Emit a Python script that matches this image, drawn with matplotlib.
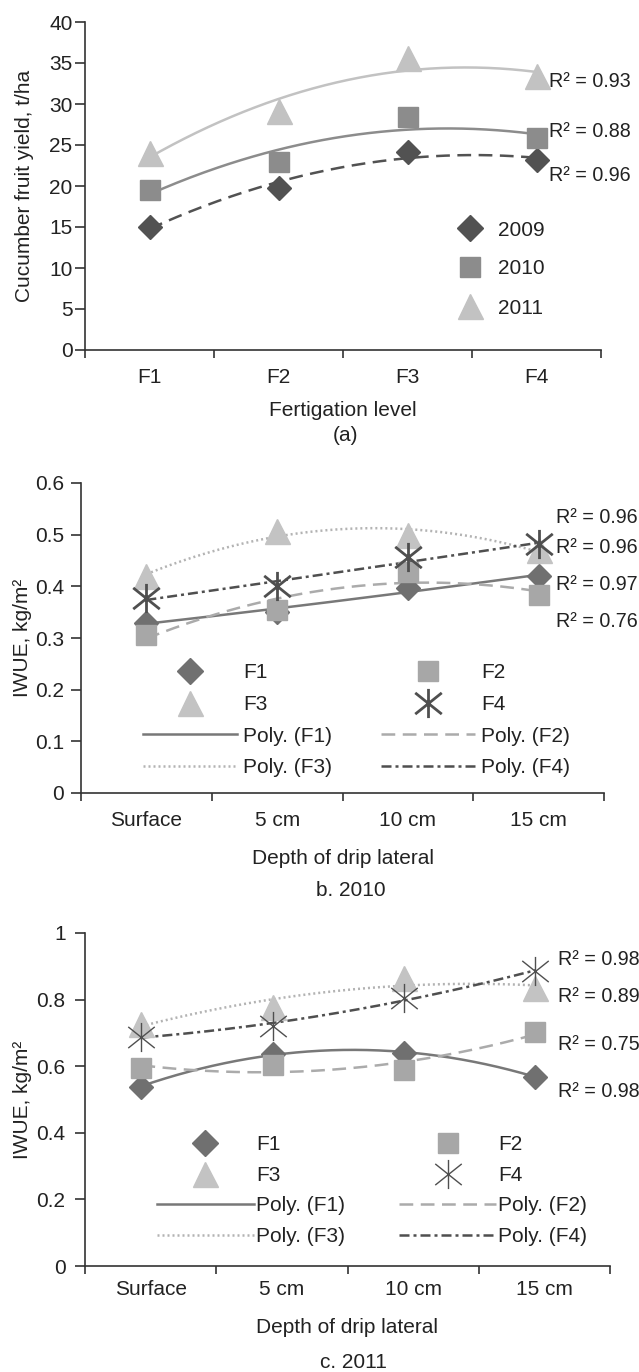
import numpy as np
import matplotlib
matplotlib.use("Agg")
import matplotlib.pyplot as plt
from matplotlib.path import Path
from matplotlib.lines import Line2D
from matplotlib.ticker import NullFormatter

plt.rcParams['font.family'] = ['Liberation Sans', 'DejaVu Sans']
plt.rcParams['font.size'] = 15
plt.rcParams['text.color'] = '#222222'
plt.rcParams['axes.labelcolor'] = '#222222'
plt.rcParams['xtick.color'] = '#333333'
plt.rcParams['ytick.color'] = '#333333'
plt.rcParams['xtick.labelcolor'] = '#222222'
plt.rcParams['ytick.labelcolor'] = '#222222'

# ---- (a) cucumber yield by fertigation level ----
levels = ['F1', 'F2', 'F3', 'F4']
yield_2009 = [15.0, 19.8, 24.1, 23.2]
yield_2010 = [19.5, 22.9, 28.4, 25.8]
yield_2011 = [24.0, 29.1, 35.6, 33.4]
r2_a = ['0.93', '0.88', '0.96']
r2_a_y = [32.7, 26.6, 21.3]

# ---- (b) IWUE 2010 by depth of drip lateral ----
depths = ['Surface', '5 cm', '10 cm', '15 cm']
iwue10_f1 = [0.33, 0.35, 0.396, 0.42]
iwue10_f2 = [0.306, 0.355, 0.428, 0.383]
iwue10_f3 = [0.42, 0.507, 0.50, 0.47]
iwue10_f4 = [0.377, 0.40, 0.457, 0.481]
r2_b = ['0.96', '0.96', '0.97', '0.76']
r2_b_y = [0.534, 0.476, 0.403, 0.331]

# ---- (c) IWUE 2011 ----
iwue11_f1 = [0.539, 0.637, 0.639, 0.569]
iwue11_f2 = [0.595, 0.605, 0.59, 0.703]
iwue11_f3 = [0.728, 0.778, 0.865, 0.835]
iwue11_f4 = [0.689, 0.721, 0.806, 0.885]
r2_c = ['0.98', '0.89', '0.75', '0.98']
r2_c_y = [0.919, 0.808, 0.664, 0.523]

x = np.arange(4) + 0.5

# asterisk marker like the spreadsheet one: an X plus a vertical bar
star = Path([(-1, -0.8), (1, 0.8), (-1, 0.8), (1, -0.8), (0, -1.1), (0, 1.1)],
            [Path.MOVETO, Path.LINETO] * 3)

DASH = (0, (5.5, 3))
DASHDOT = (0, (4, 1.6, 1.2, 1.6))
DOT = (0, (0.8, 1.2))

fig = plt.figure(figsize=(6.39, 13.72), dpi=100)
W, H = 639, 1372


def add_ax(left, right, top, bottom):
    return fig.add_axes([left / W, 1 - bottom / H, (right - left) / W, (bottom - top) / H])


def style(ax, cats, ymax, yticks, ylabels, xpad, ypad):
    ax.set_xlim(0, 4)
    ax.set_ylim(0, ymax)
    for s in ['top', 'right']:
        ax.spines[s].set_visible(False)
    for s in ['left', 'bottom']:
        ax.spines[s].set_color('#333333')
        ax.spines[s].set_linewidth(1.2)
    ax.set_xticks(range(5))
    ax.xaxis.set_major_formatter(NullFormatter())
    ax.set_xticks(x, minor=True)
    ax.set_xticklabels(cats, minor=True)
    ax.tick_params(axis='x', which='major', direction='out', length=6, width=1.2)
    ax.tick_params(axis='x', which='minor', length=0, pad=xpad)
    ax.set_yticks(yticks)
    ax.set_yticklabels(ylabels)
    ax.tick_params(axis='y', direction='out', length=7, width=1.2, pad=ypad)


def series(ax, vals, marker, ms, mcol, lcol, ls, mew=1.5, lw=1.8, shift=0.0):
    xx = x + shift
    if marker is star:
        ax.plot(xx, vals, ls='none', marker=marker, ms=ms, mfc='none', mec=mcol, mew=mew, zorder=4)
    else:
        ax.plot(xx, vals, ls='none', marker=marker, ms=ms, color=mcol, mec=mcol, zorder=4)
    coef = np.polyfit(xx, vals, 2)
    xs = np.linspace(xx[0], xx[-1], 200)
    ax.plot(xs, np.polyval(coef, xs), color=lcol, ls=ls, lw=lw, zorder=3)


def r2_labels(ax, xpos, labels, ys):
    for lab, yy in zip(labels, ys):
        ax.text(xpos, yy, 'R\u00b2 = ' + lab, va='center', ha='left',
                fontsize=14.2, clip_on=False)


# colours
C09, C10, C11 = '#525252', '#8c8c8c', '#c2c2c2'
CF1, CF2, CF3, CF4 = '#707070', '#a7a7a7', '#c3c3c3', '#4f4f4f'
LF1, LF2, LF3, LF4 = '#787878', '#ababab', '#b3b3b3', '#4f4f4f'
MS_D, MS_S, MS_T, MS_X = 12, 14.5, 18, 21

# ---------------- panel (a) ----------------
ax = add_ax(85, 601, 22, 350)
style(ax, levels, 40, range(0, 41, 5), [str(v) for v in range(0, 41, 5)], 13.3, 2)
series(ax, yield_2009, 'D', MS_D, C09, C09, DASH)
series(ax, yield_2010, 's', MS_S, C10, C10, '-')
series(ax, yield_2011, '^', MS_T, C11, C11, '-')
r2_labels(ax, 3.6, r2_a, r2_a_y)
ax.set_ylabel('Cucumber fruit yield, t/ha')
ax.yaxis.set_label_coords(-0.099, 0.5)
ax.set_xlabel('Fertigation level')
ax.xaxis.set_label_coords(0.5, -0.157)
handles = [Line2D([], [], ls='none', marker='D', ms=13, color=C09),
           Line2D([], [], ls='none', marker='s', ms=MS_S, color=C10),
           Line2D([], [], ls='none', marker='^', ms=MS_T, color=C11)]
fig.legend(handles, ['2009', '2010', '2011'], loc='upper left',
           bbox_to_anchor=(455 / W, 1 - 220.5 / H), bbox_transform=fig.transFigure,
           frameon=False, borderpad=0, borderaxespad=0, handlelength=1.4,
           handletextpad=0.65, labelspacing=0.96)
fig.text(345 / W, 1 - 435 / H, '(a)', ha='center', va='center')

# ---------------- panel (b) ----------------
ax = add_ax(81, 604, 483, 793)
yt = [0, 0.1, 0.2, 0.3, 0.4, 0.5, 0.6]
style(ax, depths, 0.6, yt, ['0', '0.1', '0.2', '0.3', '0.4', '0.5', '0.6'], 13.3, 5)
series(ax, iwue10_f1, 'D', MS_D, CF1, LF1, '-')
series(ax, iwue10_f2, 's', MS_S, CF2, LF2, DASH)
series(ax, iwue10_f3, '^', MS_T, CF3, LF3, DOT)
series(ax, iwue10_f4, star, MS_X, CF4, LF4, DASHDOT, mew=2)
r2_labels(ax, 3.63, r2_b, r2_b_y)
ax.set_ylabel('IWUE, kg/m\u00b2')
ax.yaxis.set_label_coords(-0.094, 0.5)
ax.set_xlabel('Depth of drip lateral')
ax.xaxis.set_label_coords(0.5, -0.182)


def fert_legend(mew, x0, top, hl, htp, cs, ls):
    hs = [Line2D([], [], ls='none', marker='D', ms=13, color=CF1),
          Line2D([], [], ls='none', marker='^', ms=MS_T, color=CF3),
          Line2D([], [], ls='-', lw=1.8, color=LF1),
          Line2D([], [], ls=DOT, lw=1.8, color=LF3),
          Line2D([], [], ls='none', marker='s', ms=MS_S, color=CF2),
          Line2D([], [], ls='none', marker=star, ms=MS_X, mfc='none', mec=CF4, mew=mew),
          Line2D([], [], ls=DASH, lw=1.8, color=LF2),
          Line2D([], [], ls=DASHDOT, lw=1.8, color=LF4)]
    labs = ['F1', 'F3', 'Poly. (F1)', 'Poly. (F3)', 'F2', 'F4', 'Poly. (F2)', 'Poly. (F4)']
    fig.legend(hs, labs, loc='upper left', ncol=2,
               bbox_to_anchor=(x0 / W, 1 - top / H), bbox_transform=fig.transFigure,
               frameon=False, borderpad=0, borderaxespad=0, handlelength=hl,
               handletextpad=htp, columnspacing=cs, labelspacing=ls)


fert_legend(2, 143, 663.5, 4.5, 0.3, 2.35, 0.6)
fig.text(351 / W, 1 - 890 / H, 'b. 2010', ha='center', va='center')

# ---------------- panel (c) ----------------
ax = add_ax(85, 610, 933, 1266)
yt = [0, 0.2, 0.4, 0.6, 0.8, 1.0]
style(ax, depths, 1.0, yt, ['0', '0.2', '0.4', '0.6', '0.8', '1'], 10.4, 7)
series(ax, iwue11_f1, 'D', MS_D, CF1, LF1, '-', shift=-0.07)
series(ax, iwue11_f2, 's', MS_S, CF2, LF2, DASH, shift=-0.07)
series(ax, iwue11_f3, '^', MS_T, CF3, LF3, DOT, shift=-0.07)
series(ax, iwue11_f4, star, MS_X, CF4, LF4, DASHDOT, mew=1, shift=-0.07)
r2_labels(ax, 3.6, r2_c, r2_c_y)
ax.set_ylabel('IWUE, kg/m\u00b2')
ax.yaxis.set_label_coords(-0.101, 0.5)
ax.set_xlabel('Depth of drip lateral')
ax.xaxis.set_label_coords(0.5, -0.155)
fert_legend(1, 157, 1135.5, 4.65, 0.1, 2.6, 0.55)
fig.text(353 / W, 1 - 1362 / H, 'c. 2011', ha='center', va='center')

fig.savefig('out.png', dpi=100)
